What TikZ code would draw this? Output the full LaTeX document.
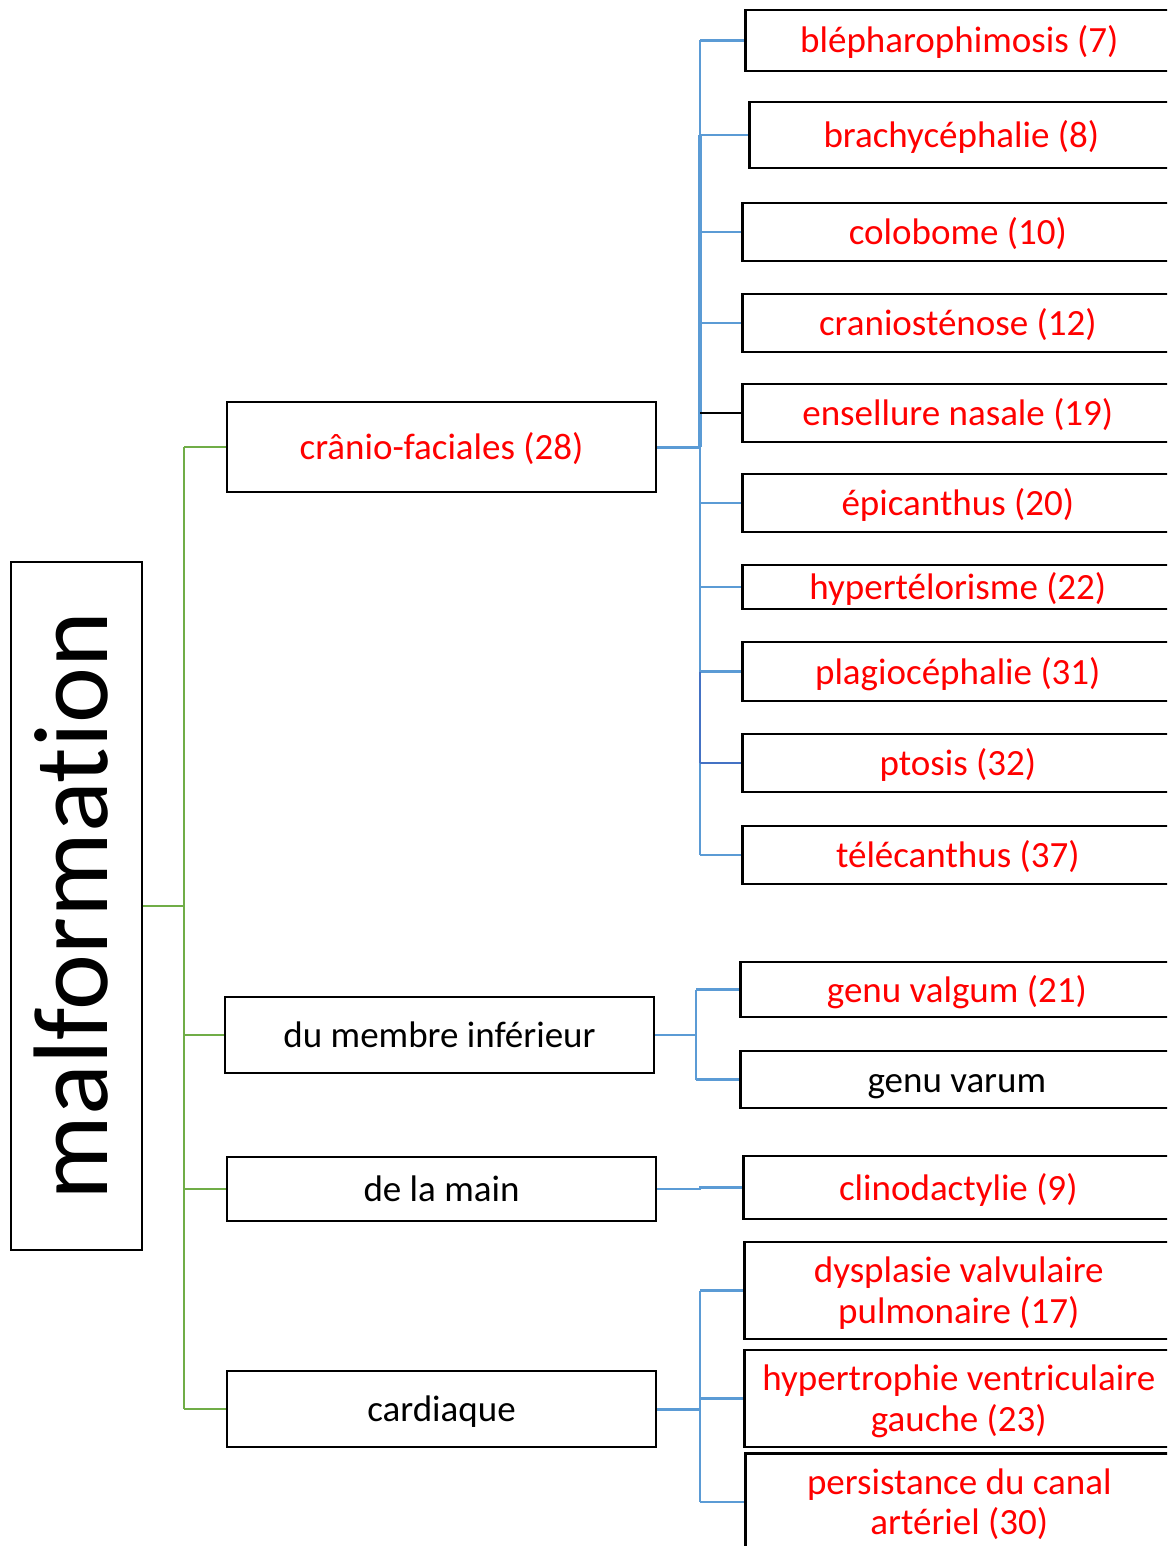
\documentclass[tikz,border=0pt]{standalone}
\usepackage{fontspec}
\setmainfont{Carlito}[Ligatures=NoCommon]
\definecolor{lblue}{HTML}{5B9BD5}
\definecolor{dblue}{HTML}{4472C4}
\definecolor{lgreen}{HTML}{70AD47}
\definecolor{rtext}{HTML}{FF0000}
\newcommand{\tl}[1]{\raisebox{-12.5pt}[0pt][0pt]{#1}}
\begin{document}
\begin{tikzpicture}[x=1pt,y=-1pt,
  box/.style={draw=black,line width=2.6pt,inner sep=0pt,align=center,
    font=\fontsize{37}{40.5}\selectfont},
  lbox/.style={box,minimum width=429pt},
  rbox/.style={box,anchor=west,text=rtext},
  gline/.style={draw=lgreen,line width=2.5pt},
  bline/.style={draw=lblue,line width=2.5pt},
]
\useasboundingbox (0,0) rectangle (1167,1546);
\clip (0,0) rectangle (1167,1546);
\fill[white] (0,0) rectangle (1167,1546);

% root
\node[box,rotate=90,minimum width=688pt,minimum height=131pt,
  font=\fontsize{106}{110}\selectfont] (mal) at (76.5,906)
  {\raisebox{-30.5pt}[0pt][0pt]{malformation}};

% level 1
\node[lbox,minimum height=90pt,text=rtext] (crf) at (441.5,447) {\tl{crânio-faciales (28)}};
\node[lbox,minimum height=76pt] (mem) at (439.5,1035) {\tl{du membre inférieur}};
\node[lbox,minimum height=64pt] (main) at (441.5,1189) {\tl{de la main}};
\node[lbox,minimum height=76pt] (card) at (441.5,1409) {\tl{cardiaque}};

% level 2: cranio-faciales
\node[rbox,minimum width=428pt,minimum height=61pt] (c1) at (744,40.5) {\tl{blépharophimosis (7)}};
\node[rbox,minimum width=424pt,minimum height=66pt] (c2) at (748,135) {\tl{brachycéphalie (8)}};
\node[rbox,minimum width=431pt,minimum height=58pt] (c3) at (741,232) {\tl{colobome (10)}};
\node[rbox,minimum width=431pt,minimum height=58pt] (c4) at (741,323) {\tl{craniosténose (12)}};
\node[rbox,minimum width=431pt,minimum height=58pt] (c5) at (741,413) {\tl{ensellure nasale (19)}};
\node[rbox,minimum width=431pt,minimum height=58pt] (c6) at (741,503) {\tl{épicanthus (20)}};
\node[rbox,minimum width=431pt,minimum height=44pt] (c7) at (741,587) {\tl{hypertélorisme (22)}};
\node[rbox,minimum width=431pt,minimum height=59pt] (c8) at (741,671.5) {\tl{plagiocéphalie (31)}};
\node[rbox,minimum width=431pt,minimum height=58pt] (c9) at (741,763) {\tl{ptosis (32)}};
\node[rbox,minimum width=431pt,minimum height=58pt] (c10) at (741,855) {\tl{télécanthus (37)}};

% level 2: membre inferieur
\node[rbox,minimum width=433pt,minimum height=55pt] (gv) at (739,989.5) {\tl{genu valgum (21)}};
\node[rbox,minimum width=433pt,minimum height=57pt,text=black] (gvar) at (739,1079.5) {\tl{genu varum}};

% level 2: main
\node[rbox,minimum width=430pt,minimum height=63pt] (cli) at (742,1187.5) {\tl{clinodactylie (9)}};

% level 2: cardiaque
\node[rbox,minimum width=429pt,minimum height=97pt] (dys) at (743,1290.5) {\tl{dysplasie valvulaire}\\\tl{pulmonaire (17)}};
\node[rbox,minimum width=429pt,minimum height=97pt] (hyp) at (743,1398.5) {\tl{hypertrophie ventriculaire}\\\tl{gauche (23)}};
\node[rbox,minimum width=428pt,minimum height=97pt] (per) at (744,1502) {\tl{persistance du canal}\\\tl{artériel (30)}};

% trunk coordinates
\coordinate (gx) at (184,0);
\coordinate (bx) at (700,0);
\coordinate (mx) at (696,0);

% green connectors
\draw[gline] (mal.south) -- (mal.south -| gx);
\draw[gline] (crf.west -| gx) -- (card.west -| gx);
\draw[gline] (crf.west -| gx) -- (crf.west);
\draw[gline] (mem.west -| gx) -- (mem.west);
\draw[gline] (main.west -| gx) -- (main.west);
\draw[gline] (card.west -| gx) -- (card.west);

% blue connectors: cranio-faciales
\draw[bline,line width=3pt] (crf.east) -- (crf.east -| bx);
\draw[bline] (c1.west -| bx) -- (c2.west -| bx);
\draw[bline,line width=3.2pt] (c2.west -| bx) -- (crf.east -| bx);
\draw[bline] (crf.east -| bx) -- (c10.west -| bx);
\foreach \n in {c1,c2,c3,c4,c6,c7,c8,c10}{
  \draw[bline] (\n.west -| bx) -- (\n.west);
}
\draw[draw=black,line width=2.5pt] (c5.west -| bx) -- (c5.west);
\draw[draw=dblue,line width=2.5pt] (c9.west -| bx) -- (c9.west);
\draw[draw=dblue,line width=2.5pt] (c8.west -| bx) -- (c9.west -| bx);

% blue connectors: membre inferieur
\draw[bline] (mem.east) -- (mem.east -| mx);
\draw[bline] (gv.west -| mx) -- (gvar.west -| mx);
\draw[bline] (gv.west -| mx) -- (gv.west);
\draw[bline] (gvar.west -| mx) -- (gvar.west);

% blue connector: main
\draw[bline] (main.east) -- (main.east -| bx) -- (cli.west -| bx) -- (cli.west);

% blue connectors: cardiaque
\draw[bline,line width=3pt] (card.east) -- (card.east -| bx);
\draw[bline] (dys.west -| bx) -- (per.west -| bx);
\draw[bline] (dys.west -| bx) -- (dys.west);
\draw[bline] (hyp.west -| bx) -- (hyp.west);
\draw[bline] (per.west -| bx) -- (per.west);
\end{tikzpicture}
\end{document}
